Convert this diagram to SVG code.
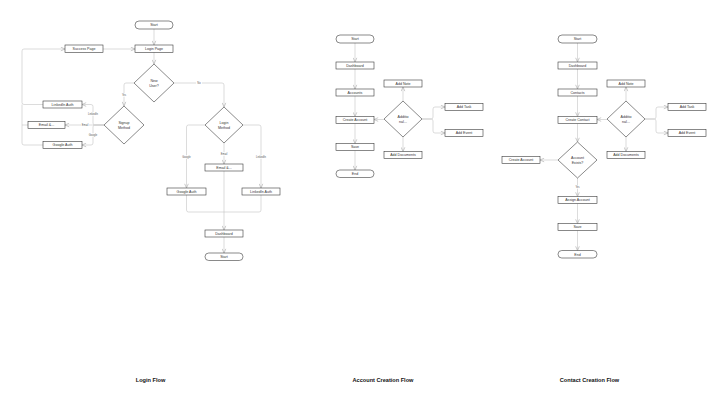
<svg xmlns="http://www.w3.org/2000/svg" width="721" height="405" viewBox="0 0 721 405">
<defs>
<style>
.n rect,.n polygon{fill:#fff;stroke:#3a3a3a;stroke-width:0.6}
.n text{font-family:"Liberation Sans",Arial,sans-serif;font-size:3.6px;fill:#333;text-anchor:middle}
.c path{fill:none;stroke:#c4c4c4;stroke-width:0.6}
.lbl rect{fill:#fff}
.lbl text{font-family:"Liberation Sans",Arial,sans-serif;font-size:2.6px;fill:#555;text-anchor:middle}
.t{font-family:"Liberation Sans",Arial,sans-serif;font-size:5.6px;font-weight:bold;fill:#111;text-anchor:middle}
</style>
<marker id="a" viewBox="0 0 6 6" refX="5.5" refY="3" markerWidth="5" markerHeight="5" orient="auto" markerUnits="userSpaceOnUse">
<path d="M0.5,0.8 L5.5,3 L0.5,5.2" fill="none" stroke="#b0b0b0" stroke-width="0.8"/>
</marker>
</defs>
<rect width="721" height="405" fill="#fff"/>

<g id="connectors" class="c">
<!-- Login flow -->
<path d="M154,29 V45" marker-end="url(#a)"/>
<path d="M103,49 H135" marker-end="url(#a)"/>
<path d="M154,52 V64" marker-end="url(#a)"/>
<path d="M134,83 H126 Q124,83 124,85 V106" marker-end="url(#a)"/>
<path d="M174,83 H222 Q224,83 224,85 V107" marker-end="url(#a)"/>
<path d="M104,125 H65" marker-end="url(#a)"/>
<path d="M104,125 H95 Q93,125 93,123 V106.5 Q93,104.5 91,104.5 H82" marker-end="url(#a)"/>
<path d="M104,125 H95 Q93,125 93,127 V143 Q93,145 91,145 H82" marker-end="url(#a)"/>
<path d="M43,104.5 H24 Q22,104.5 22,102.5 V51 Q22,49 24,49 H65" marker-end="url(#a)"/>
<path d="M28,125 H22"/>
<path d="M43,145 H24 Q22,145 22,143 V104.5"/>
<path d="M205,125 H188.5 Q186.5,125 186.5,127 V188" marker-end="url(#a)"/>
<path d="M224,143 V164" marker-end="url(#a)"/>
<path d="M243,125 H259 Q261,125 261,127 V188" marker-end="url(#a)"/>
<path d="M224,171 V230" marker-end="url(#a)"/>
<path d="M186.5,195 V210 Q186.5,212 188.5,212 H224"/>
<path d="M261,195 V210 Q261,212 259,212 H224"/>
<path d="M224,237 V253" marker-end="url(#a)"/>
<!-- Account flow -->
<path d="M355,43 V62" marker-end="url(#a)"/>
<path d="M355,69 V89" marker-end="url(#a)"/>
<path d="M355,96 V116.5" marker-end="url(#a)"/>
<path d="M355,123.5 V143.5" marker-end="url(#a)"/>
<path d="M355,150.5 V170" marker-end="url(#a)"/>
<path d="M384,119.5 H374" marker-end="url(#a)"/>
<path d="M403,101 V87" marker-end="url(#a)"/>
<path d="M403,137 V151.5" marker-end="url(#a)"/>
<path d="M422,119 H431 Q433,119 433,117 V109 Q433,107 435,107 H445" marker-end="url(#a)"/>
<path d="M422,119 H431 Q433,119 433,121 V131 Q433,133 435,133 H445" marker-end="url(#a)"/>
<!-- Contact flow -->
<path d="M577.5,43 V62" marker-end="url(#a)"/>
<path d="M577.5,69 V89" marker-end="url(#a)"/>
<path d="M577.5,96 V116.5" marker-end="url(#a)"/>
<path d="M577.5,123.5 V142" marker-end="url(#a)"/>
<path d="M577.5,178 V196.5" marker-end="url(#a)"/>
<path d="M577.5,203.5 V223.5" marker-end="url(#a)"/>
<path d="M577.5,230.5 V250.5" marker-end="url(#a)"/>
<path d="M558,160 H540" marker-end="url(#a)"/>
<path d="M607,119.5 H597" marker-end="url(#a)"/>
<path d="M626,101 V87" marker-end="url(#a)"/>
<path d="M626,137 V151.5" marker-end="url(#a)"/>
<path d="M645,119 H654 Q656,119 656,117 V109 Q656,107 658,107 H668" marker-end="url(#a)"/>
<path d="M645,119 H654 Q656,119 656,121 V131 Q656,133 658,133 H668" marker-end="url(#a)"/>
</g>

<g id="connector-labels" class="lbl">
<rect x="120.5" y="93.3" width="7" height="3.4"/><text x="124" y="96">Yes</text>
<rect x="196" y="81.3" width="6" height="3.4"/><text x="199" y="84">No</text>
<rect x="81" y="123.3" width="8" height="3.4"/><text x="85" y="126">Email</text>
<rect x="87.5" y="112.3" width="11" height="3.4"/><text x="93" y="115">LinkedIn</text>
<rect x="88" y="133.3" width="10" height="3.4"/><text x="93" y="136">Google</text>
<rect x="181.5" y="155.3" width="10" height="3.4"/><text x="186.5" y="158">Google</text>
<rect x="220" y="152.3" width="8" height="3.4"/><text x="224" y="155">Email</text>
<rect x="255.5" y="155.3" width="11" height="3.4"/><text x="261" y="158">LinkedIn</text>
<rect x="574" y="185.3" width="7" height="3.4"/><text x="577.5" y="188">Yes</text>
</g>

<!-- Login flow nodes -->
<g id="login-start" class="n"><rect x="135" y="21" width="38" height="8" rx="4"/><text x="154" y="26.3">Start</text></g>
<g id="login-page" class="n"><rect x="135" y="45" width="38" height="7.5"/><text x="154" y="50">Login Page</text></g>
<g id="success-page" class="n"><rect x="65" y="45" width="38" height="7.5"/><text x="84" y="50">Success Page</text></g>
<g id="new-user" class="n"><polygon points="154,64 174,83 154,102 134,83"/><text x="154" y="81.5">New</text><text x="154" y="86.5">User?</text></g>
<g id="signup-method" class="n"><polygon points="124,106 144,125 124,144 104,125"/><text x="124" y="123.5">Signup</text><text x="124" y="128.5">Method</text></g>
<g id="linkedin-auth-signup" class="n"><rect x="43" y="101" width="39" height="7"/><text x="62.5" y="105.8">LinkedIn Auth</text></g>
<g id="email-signup" class="n"><rect x="28" y="121.5" width="37" height="7"/><text x="46.5" y="126.3">Email &amp;...</text></g>
<g id="google-auth-signup" class="n"><rect x="43" y="141.5" width="39" height="7"/><text x="62.5" y="146.3">Google Auth</text></g>
<g id="login-method" class="n"><polygon points="224,107 243,125 224,143 205,125"/><text x="224" y="123.5">Login</text><text x="224" y="128.5">Method</text></g>
<g id="email-login" class="n"><rect x="205" y="164" width="38" height="7"/><text x="224" y="168.8">Email &amp;...</text></g>
<g id="google-auth-login" class="n"><rect x="167" y="188" width="39" height="7"/><text x="186.5" y="192.8">Google Auth</text></g>
<g id="linkedin-auth-login" class="n"><rect x="242" y="188" width="38" height="7"/><text x="261" y="192.8">LinkedIn Auth</text></g>
<g id="login-dashboard" class="n"><rect x="205" y="230" width="38" height="7"/><text x="224" y="234.8">Dashboard</text></g>
<g id="login-end" class="n"><rect x="205" y="253" width="38" height="7.5" rx="3.75"/><text x="224" y="258">Start</text></g>

<!-- Account creation flow nodes -->
<g id="acc-start" class="n"><rect x="336" y="35" width="38" height="8" rx="4"/><text x="355" y="40.3">Start</text></g>
<g id="acc-dashboard" class="n"><rect x="336" y="62" width="38" height="7"/><text x="355" y="66.8">Dashboard</text></g>
<g id="acc-accounts" class="n"><rect x="336" y="89" width="38" height="7"/><text x="355" y="93.8">Accounts</text></g>
<g id="acc-create-account" class="n"><rect x="336" y="116.5" width="38" height="7"/><text x="355" y="121.3">Create Account</text></g>
<g id="acc-save" class="n"><rect x="336" y="143.5" width="38" height="7"/><text x="355" y="148.3">Save</text></g>
<g id="acc-end" class="n"><rect x="336" y="170" width="38" height="7.5" rx="3.75"/><text x="355" y="175">End</text></g>
<g id="acc-add-note" class="n"><rect x="384" y="80" width="38" height="7"/><text x="403" y="84.8">Add Note</text></g>
<g id="acc-additional" class="n"><polygon points="403,101 422,119 403,137 384,119"/><text x="403" y="117.5">Additio</text><text x="403" y="122.5">nal...</text></g>
<g id="acc-add-documents" class="n"><rect x="384" y="151.5" width="38" height="7"/><text x="403" y="156.3">Add Documents</text></g>
<g id="acc-add-task" class="n"><rect x="445" y="103.5" width="38" height="7"/><text x="464" y="108.3">Add Task</text></g>
<g id="acc-add-event" class="n"><rect x="445" y="129.5" width="38" height="7"/><text x="464" y="134.3">Add Event</text></g>

<!-- Contact creation flow nodes -->
<g id="con-start" class="n"><rect x="558" y="35" width="39" height="8" rx="4"/><text x="577.5" y="40.3">Start</text></g>
<g id="con-dashboard" class="n"><rect x="558" y="62" width="39" height="7"/><text x="577.5" y="66.8">Dashboard</text></g>
<g id="con-contacts" class="n"><rect x="558" y="89" width="39" height="7"/><text x="577.5" y="93.8">Contacts</text></g>
<g id="con-create-contact" class="n"><rect x="558" y="116.5" width="39" height="7"/><text x="577.5" y="121.3">Create Contact</text></g>
<g id="con-add-note" class="n"><rect x="607" y="80" width="38" height="7"/><text x="626" y="84.8">Add Note</text></g>
<g id="con-additional" class="n"><polygon points="626,101 645,119 626,137 607,119"/><text x="626" y="117.5">Additio</text><text x="626" y="122.5">nal...</text></g>
<g id="con-add-task" class="n"><rect x="668" y="103.5" width="38" height="7"/><text x="687" y="108.3">Add Task</text></g>
<g id="con-add-event" class="n"><rect x="668" y="129.5" width="38" height="7"/><text x="687" y="134.3">Add Event</text></g>
<g id="con-add-documents" class="n"><rect x="607" y="151.5" width="38" height="7"/><text x="626" y="156.3">Add Documents</text></g>
<g id="con-account-exists" class="n"><polygon points="577.5,142 597,160 577.5,178 558,160"/><text x="577.5" y="158.5">Account</text><text x="577.5" y="163.5">Exists?</text></g>
<g id="con-create-account" class="n"><rect x="502" y="156.5" width="38" height="7"/><text x="521" y="161.3">Create Account</text></g>
<g id="con-assign-account" class="n"><rect x="558" y="196.5" width="39" height="7"/><text x="577.5" y="201.3">Assign Account</text></g>
<g id="con-save" class="n"><rect x="558" y="223.5" width="39" height="7"/><text x="577.5" y="228.3">Save</text></g>
<g id="con-end" class="n"><rect x="558" y="250.5" width="39" height="7.5" rx="3.75"/><text x="577.5" y="255.5">End</text></g>

<g id="titles">
<text class="t" x="150.5" y="382">Login Flow</text>
<text class="t" x="383" y="382">Account Creation Flow</text>
<text class="t" x="589.5" y="382">Contact Creation Flow</text>
</g>
</svg>
